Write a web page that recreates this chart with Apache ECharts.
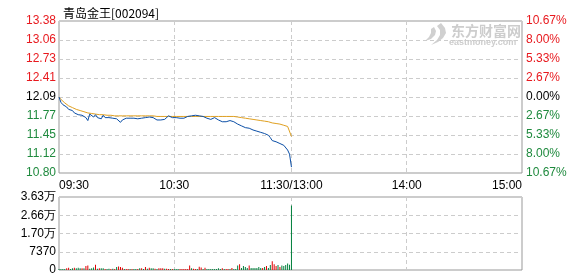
<!DOCTYPE html>
<html>
<head>
<meta charset="utf-8">
<script src="https://cdn.jsdelivr.net/npm/echarts@6/dist/echarts.min.js"></script>
<style>
html,body{margin:0;padding:0;background:#fff;}
#chart{width:578px;height:276px;}
</style>
</head>
<body>
<div id="chart"></div>
<script>
// ---------- DATA ----------
var titleText = '青岛金王[002094]';
var priceTicks = ['10.80','11.12','11.45','11.77','12.09','12.41','12.73','13.06','13.38'];
var pctTicks = ['10.67%','8.00%','5.33%','2.67%','0.00%','2.67%','5.33%','8.00%','10.67%'];
var volTicks = ['0','7370','1.70万','2.66万','3.63万'];
var timeLabels = {0:'09:30', 60:'10:30', 121:'11:30/13:00', 181:'14:00', 241:'15:00'};
var priceMin = 10.80, priceMax = 13.38, volMax = 36300;

// minute-by-minute price (09:30 .. 11:30, then 13:00)
var price = [
12.09,12.00,11.96,11.93,11.92,11.88,11.86,11.86,11.82,11.80,
11.79,11.78,11.78,11.76,11.74,11.69,11.80,11.77,11.75,11.79,
11.74,11.77,11.72,11.78,11.74,11.76,11.74,11.75,11.73,11.74,
11.72,11.71,11.66,11.70,11.72,11.73,11.74,11.73,11.73,11.73,
11.73,11.72,11.73,11.73,11.75,11.74,11.72,11.75,11.76,11.74,
11.72,11.70,11.70,11.70,11.70,11.71,11.72,11.77,11.74,11.74,
11.75,11.74,11.73,11.73,11.73,11.73,11.74,11.76,11.77,11.77,
11.78,11.78,11.76,11.77,11.79,11.76,11.75,11.73,11.72,11.71,
11.72,11.74,11.72,11.70,11.68,11.67,11.67,11.67,11.68,11.69,
11.70,11.67,11.66,11.63,11.61,11.60,11.60,11.57,11.56,11.56,
11.55,11.53,11.52,11.51,11.50,11.49,11.48,11.47,11.45,11.44,
11.40,11.35,11.34,11.33,11.31,11.30,11.29,11.27,11.24,11.19,
11.12,10.90
];
// average price line
var avgPrice = [
12.09,12.05,12.02,11.99,11.96,11.94,11.92,11.91,11.89,11.88,
11.87,11.86,11.85,11.84,11.83,11.82,11.82,11.81,11.81,11.80,
11.80,11.79,11.79,11.79,11.78,11.78,11.78,11.78,11.77,11.77,
11.77,11.77,11.77,11.77,11.77,11.77,11.77,11.77,11.77,11.77,
11.77,11.77,11.77,11.77,11.77,11.77,11.77,11.77,11.77,11.77,
11.76,11.76,11.76,11.76,11.76,11.76,11.76,11.76,11.76,11.76,
11.76,11.76,11.76,11.76,11.76,11.76,11.76,11.76,11.76,11.76,
11.76,11.76,11.76,11.76,11.76,11.76,11.76,11.76,11.76,11.76,
11.76,11.76,11.76,11.76,11.76,11.76,11.76,11.76,11.76,11.76,
11.76,11.76,11.76,11.75,11.74,11.74,11.73,11.73,11.72,11.72,
11.71,11.71,11.70,11.70,11.69,11.69,11.68,11.68,11.67,11.67,
11.66,11.65,11.65,11.64,11.63,11.63,11.62,11.61,11.60,11.59,
11.58,11.42
];
// volume per minute
var volume = [
490,490,490,490,810,1130,490,810,1130,810,
1130,810,810,810,1940,2270,650,810,1300,2590,
650,810,810,810,490,490,650,490,650,490,
1460,1780,1460,1130,490,490,490,490,490,490,
490,490,810,810,490,1460,650,1130,810,810,
650,490,810,810,810,650,650,490,490,490,
490,490,490,490,490,490,490,490,2270,810,
650,490,490,1620,1300,490,1130,490,490,490,
490,490,490,810,490,810,490,490,490,490,
970,490,490,2270,2920,970,1940,1460,970,2270,
970,970,970,970,1460,970,970,1460,1940,970,
2430,4370,2920,1940,2430,1460,2270,1940,2430,3240,
2590,32100
];
// 1 = up (red), -1 = down (green)
var volDir = [
-1,-1,-1,-1,1,1,-1,-1,1,-1,
-1,-1,1,-1,1,1,-1,-1,-1,1,
-1,1,-1,-1,1,-1,-1,1,-1,1,
-1,1,1,1,-1,1,1,-1,1,-1,
-1,1,-1,1,-1,1,-1,1,-1,-1,
1,-1,1,1,1,-1,1,1,-1,1,
-1,-1,-1,1,1,1,1,1,1,-1,
1,1,-1,1,1,-1,1,-1,-1,-1,
-1,-1,-1,-1,-1,1,-1,1,1,-1,
1,-1,-1,-1,1,-1,-1,-1,-1,1,
-1,-1,-1,-1,-1,-1,1,-1,1,-1,
-1,1,1,1,-1,1,-1,-1,-1,-1,
-1,-1
];

// time categories: 09:30..11:30, 13:00..15:00
function pad(n){return (n<10?'0':'')+n;}
var times = [];
for (var m = 9*60+30; m <= 11*60+30; m++) times.push(pad(Math.floor(m/60))+':'+pad(m%60));
for (var m2 = 13*60; m2 <= 15*60; m2++) times.push(pad(Math.floor(m2/60))+':'+pad(m2%60));

// ---------- STYLE ----------
var RED = '#e8191e', GREEN = '#1f8a3e', BLACK = '#000';
var FONT = '"Liberation Sans", Arial, sans-serif';
var GRID_LINE = {show:true, lineStyle:{color:'#cccccc', type:[4,3], width:1}};
var vSplit = function(i){ return i===60 || i===121 || i===181; };

function tickColor(v, i){
  var k = Math.round(v);
  return k > 4 ? RED : (k < 4 ? GREEN : BLACK);
}

var chart = echarts.init(document.getElementById('chart'), null, {renderer:'canvas'});
var volData = volume.map(function(v,i){
  return {value:v, itemStyle:{color: volDir[i] > 0 ? '#e00000' : '#00803c'}};
});

chart.setOption({
  animation:false,
  backgroundColor:'#fff',
  textStyle:{fontFamily:FONT},
  title:{
    text:titleText, left:58, top:2,
    textStyle:{fontSize:12, fontWeight:'normal', color:'#000', fontFamily:'"Noto Sans CJK SC", sans-serif'}
  },
  graphic:[
    {type:'polygon', silent:true, z:0,
     shape:{points:[[441,23],[445,28],[446,33],[443,38],[438,42],[431,45],[437,40],[440,35],[440,30],[437,26]]},
     style:{fill:'#d0d0d0'}},
    {type:'polygon', silent:true, z:0,
     shape:{points:[[434,27],[436,31],[435,35],[431,39],[425,41],[429,37],[431,33],[431,29]]},
     style:{fill:'#d0d0d0'}},
    {type:'text', left:451, top:24, z:0, style:{text:'东方财富网', fill:'#cdcdcd', font:'bold 14px "Noto Sans CJK SC", sans-serif'}},
    {type:'text', left:449, top:38, z:0, style:{text:'eastmoney.com', fill:'#cdcdcd', font:'bold 9px "Liberation Sans", Arial, sans-serif'}}
  ],
  grid:[
    {left:59, top:21, width:463, height:152, show:true, borderColor:'#999', borderWidth:1, backgroundColor:'transparent'},
    {left:59, top:197, width:463, height:74, show:true, borderColor:'#999', borderWidth:1, backgroundColor:'transparent'}
  ],
  xAxis:[
    {type:'category', gridIndex:0, data:times, boundaryGap:false,
     axisLine:{show:false}, axisTick:{show:false},
     axisLabel:{show:true, interval:function(i){return timeLabels[i]!==undefined;},
       formatter:function(v,i){return timeLabels[i]||'';},
       color:'#000', fontSize:12, fontFamily:FONT, margin:7,
       alignMinLabel:'left', alignMaxLabel:'right'},
     splitLine:{show:true, interval:vSplit, lineStyle:GRID_LINE.lineStyle}},
    {type:'category', gridIndex:1, data:times, boundaryGap:false,
     axisLine:{show:false}, axisTick:{show:false}, axisLabel:{show:false},
     splitLine:{show:true, interval:vSplit, lineStyle:GRID_LINE.lineStyle}}
  ],
  yAxis:[
    {type:'value', gridIndex:0, min:priceMin, max:priceMax, show:false, splitLine:{show:false}},
    {type:'value', gridIndex:0, min:0, max:priceTicks.length-1, interval:1, position:'left',
     axisLine:{show:false}, axisTick:{show:false},
     axisLabel:{margin:3, fontSize:12, fontFamily:FONT, color:tickColor,
       formatter:function(v){return priceTicks[Math.round(v)];}},
     splitLine:GRID_LINE},
    {type:'value', gridIndex:0, min:0, max:pctTicks.length-1, interval:1, position:'right',
     axisLine:{show:false}, axisTick:{show:false},
     axisLabel:{margin:4, fontSize:12, fontFamily:FONT, color:tickColor,
       formatter:function(v){return pctTicks[Math.round(v)];}},
     splitLine:{show:false}},
    {type:'value', gridIndex:1, min:0, max:volMax, interval:volMax/(volTicks.length-1), position:'left',
     axisLine:{show:false}, axisTick:{show:false},
     axisLabel:{margin:3, fontSize:12, fontFamily:FONT, color:'#000',
       formatter:function(v){return volTicks[Math.round(v/(volMax/(volTicks.length-1)))];}},
     splitLine:GRID_LINE}
  ],
  series:[
    {type:'line', name:'avg', xAxisIndex:0, yAxisIndex:0, data:avgPrice, showSymbol:false, symbol:'none',
     lineStyle:{color:'#e0a020', width:1}, z:3},
    {type:'line', name:'price', xAxisIndex:0, yAxisIndex:0, data:price, showSymbol:false, symbol:'none',
     lineStyle:{color:'#0a4ea6', width:1}, z:4},
    {type:'bar', name:'vol', xAxisIndex:1, yAxisIndex:3, data:volData, barWidth:1, barGap:'0%'}
  ]
});
</script>
</body>
</html>
